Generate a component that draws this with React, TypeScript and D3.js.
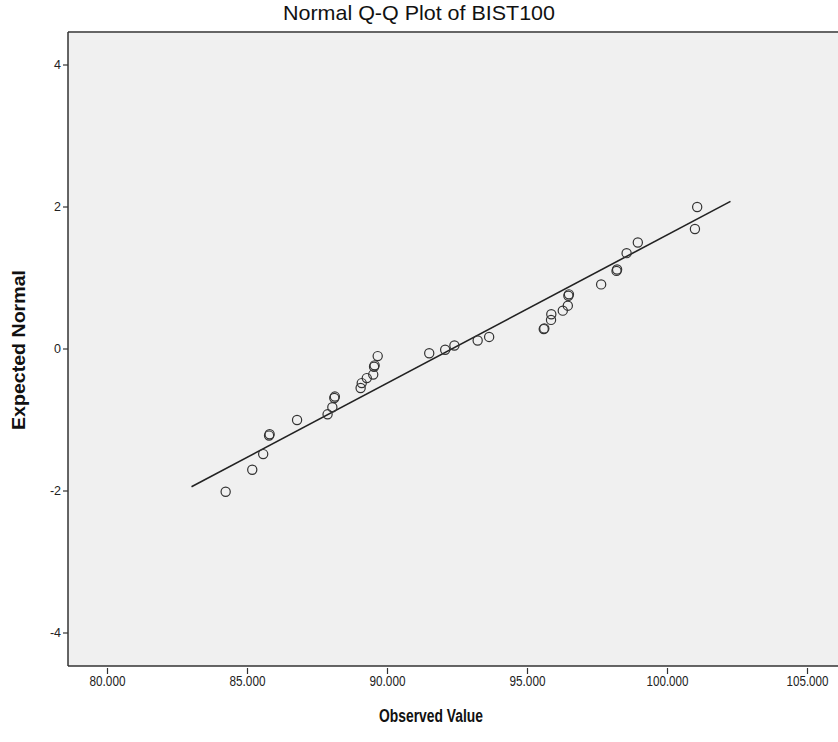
import React from 'react'
import * as d3 from 'd3'

const observed = [
  84.22, 85.17, 85.56, 85.77, 85.79, 86.77, 87.86, 88.03, 88.1, 88.12,
  89.04, 89.08, 89.26, 89.49, 89.52, 89.54, 89.65, 91.49, 92.06, 92.39,
  93.22, 93.63, 95.58, 95.6, 95.84, 95.85, 96.26, 96.44, 96.46, 96.48,
  97.63, 98.18, 98.2, 98.54, 98.94, 100.98, 101.06,
]
const expected = [
  -2.01, -1.7, -1.48, -1.22, -1.2, -1.0, -0.92, -0.82, -0.69, -0.67,
  -0.55, -0.48, -0.41, -0.36, -0.25, -0.23, -0.1, -0.06, -0.01, 0.05,
  0.12, 0.17, 0.28, 0.29, 0.41, 0.49, 0.54, 0.61, 0.75, 0.77,
  0.91, 1.1, 1.12, 1.35, 1.5, 1.69, 2.0,
]

const xTicks = [80, 85, 90, 95, 100, 105]
const yTicks = [-4, -2, 0, 2, 4]

// reference line: y = (x - mean) / sd
const lineMean = 92.29
const lineSd = 4.79
const lineExtent = [83.0, 102.25]

const W = 838
const H = 742
const box = { left: 68, top: 32, right: 852, bottom: 666 }

export default function App() {
  const x = d3.scaleLinear().domain([80, 105]).range([107.5, 807.5])
  const y = d3.scaleLinear().domain([-4, 4]).range([633, 65])

  const points = observed.map((v, i) => ({ x: v, y: expected[i] }))
  const linePath = d3
    .line<number>()
    .x(d => x(d))
    .y(d => y((d - lineMean) / lineSd))(lineExtent)

  const narrow = '"Liberation Sans Narrow", "Liberation Sans", Arial, sans-serif'
  const sans = '"Liberation Sans", Arial, sans-serif'
  const fmt = d3.format('.3f')

  return (
    <svg
      width={W}
      height={H}
      style={{ position: 'absolute', left: 0, top: 0, background: '#fff' }}
    >
      {/* plot area */}
      <rect
        x={box.left}
        y={box.top}
        width={box.right - box.left}
        height={box.bottom - box.top}
        fill="#f0f0f0"
      />
      <line x1={box.left} x2={box.right} y1={box.top} y2={box.top} stroke="#666" strokeWidth={2} />
      <line x1={box.left} x2={box.left} y1={box.top} y2={box.bottom} stroke="#333" strokeWidth={1.5} />
      <line x1={box.left} x2={box.right} y1={box.bottom} y2={box.bottom} stroke="#333" strokeWidth={1.5} />

      {/* title */}
      <text
        x={419}
        y={20}
        textAnchor="middle"
        fontFamily={narrow}
        fontSize={21}
        fill="#111"
        textLength={272}
        lengthAdjust="spacingAndGlyphs"
      >
        Normal Q-Q Plot of BIST100
      </text>

      {/* y axis */}
      {yTicks.map(t => (
        <g key={t} transform={`translate(0,${y(t)})`}>
          <line x1={box.left - 5} x2={box.left} stroke="#333" strokeWidth={1.2} />
          <text x={box.left - 7} dy="0.35em" textAnchor="end" fontFamily={sans} fontSize={12.5} fill="#222">
            {t}
          </text>
        </g>
      ))}
      <text
        transform={`translate(25,${y(0) + 1}) rotate(-90)`}
        textAnchor="middle"
        fontFamily={sans}
        fontWeight="bold"
        fontSize={18}
        fill="#111"
        textLength={160}
        lengthAdjust="spacingAndGlyphs"
      >
        Expected Normal
      </text>

      {/* x axis */}
      {xTicks.map(t => {
        const label = fmt(t)
        return (
          <g key={t} transform={`translate(${x(t)},0)`}>
            <line y1={box.bottom + 2} y2={box.bottom + 8} stroke="#333" strokeWidth={1.2} />
            <text
              y={box.bottom + 20}
              textAnchor="middle"
              fontFamily={narrow}
              fontSize={14}
              fill="#222"
              textLength={label.length * 6}
              lengthAdjust="spacingAndGlyphs"
            >
              {label}
            </text>
          </g>
        )
      })}
      <text
        x={431}
        y={722}
        textAnchor="middle"
        fontFamily={narrow}
        fontWeight="bold"
        fontSize={18}
        fill="#111"
        textLength={104}
        lengthAdjust="spacingAndGlyphs"
      >
        Observed Value
      </text>

      {/* reference line */}
      <path d={linePath ?? ''} fill="none" stroke="#222" strokeWidth={1.6} />

      {/* points */}
      {points.map((p, i) => (
        <circle key={i} cx={x(p.x)} cy={y(p.y)} r={4.6} fill="none" stroke="#333" strokeWidth={1.2} />
      ))}
    </svg>
  )
}
